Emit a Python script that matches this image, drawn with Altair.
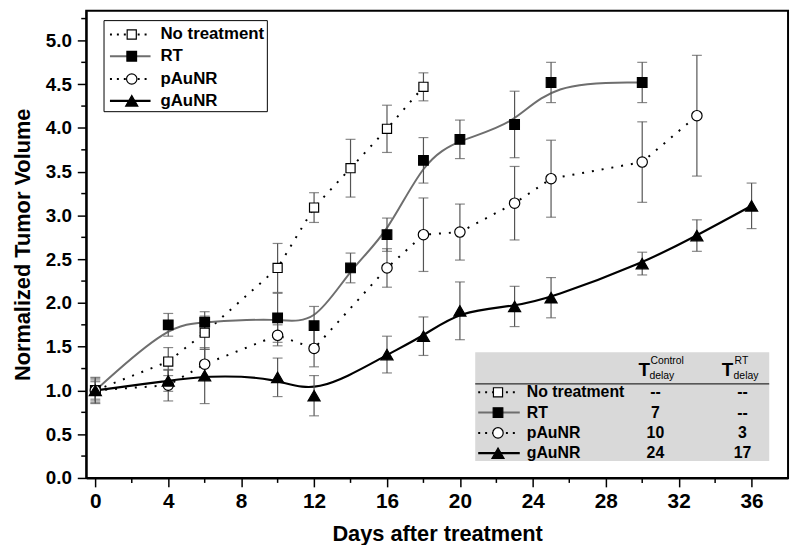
import altair as alt
import pandas as pd

# ---------------- data ----------------
series_names = ["No treatment", "RT", "pAuNR", "gAuNR"]

days_nt = [0, 4, 6, 10, 12, 14, 16, 18]
vol_nt = [1.00, 1.33, 1.66, 2.40, 3.09, 3.54, 3.99, 4.47]
err_nt = [0.10, 0.16, 0.19, 0.28, 0.17, 0.33, 0.27, 0.16]

days_rt = [0, 4, 6, 10, 12, 14, 16, 18, 20, 23, 25, 30]
vol_rt = [1.00, 1.75, 1.78, 1.83, 1.74, 2.40, 2.78, 3.63, 3.87, 4.04, 4.52, 4.52]
err_rt = [0.12, 0.13, 0.12, 0.28, 0.22, 0.17, 0.19, 0.26, 0.22, 0.38, 0.23, 0.23]

days_p = [0, 4, 6, 10, 12, 16, 18, 20, 23, 25, 30, 33]
vol_p = [1.00, 1.06, 1.30, 1.63, 1.48, 2.40, 2.78, 2.81, 3.14, 3.42, 3.61, 4.14]
err_p = [0.14, 0.18, 0.17, 0.12, 0.21, 0.22, 0.42, 0.32, 0.42, 0.44, 0.46, 0.69]

days_g = [0, 4, 6, 10, 12, 16, 18, 20, 23, 25, 30, 33, 36]
vol_g = [1.00, 1.11, 1.17, 1.15, 0.94, 1.41, 1.62, 1.91, 1.96, 2.06, 2.45, 2.77, 3.11]
err_g = [0.15, 0.12, 0.32, 0.22, 0.23, 0.21, 0.22, 0.33, 0.23, 0.23, 0.13, 0.18, 0.26]

t_control = ["--", "7", "10", "24"]
t_rt = ["--", "--", "3", "17"]

x_major = [0, 4, 8, 12, 16, 20, 24, 28, 32, 36]
x_minor = [2, 6, 10, 14, 18, 22, 26, 30, 34]
y_major = [0.0, 0.5, 1.0, 1.5, 2.0, 2.5, 3.0, 3.5, 4.0, 4.5, 5.0]
y_minor = [0.25, 0.75, 1.25, 1.75, 2.25, 2.75, 3.25, 3.75, 4.25, 4.75, 5.25]

# ---------------- layout / style ----------------
W, H = 709, 472
X_DOM = [-0.5, 38.0]
Y_DOM = [0.0, 5.34]
FONT = "Liberation Sans"
ERR_COLOR = "#555555"

STYLE = {
    "No treatment": dict(shape="square", fill="white", line="black", dash=[2, 8], ldash=[2, 5], interp="linear", size=85, lw=2),
    "RT": dict(shape="square", fill="black", line="#6e6e6e", dash=None, ldash=None, interp="basis", size=95, lw=2),
    "pAuNR": dict(shape="circle", fill="white", line="black", dash=[2, 8], ldash=[2, 5], interp="linear", size=110, lw=2),
    "gAuNR": dict(shape="triangle-up", fill="black", line="black", dash=None, ldash=None, interp="basis", size=150, lw=2.2),
}

SERIES = {
    "No treatment": (days_nt, vol_nt, err_nt),
    "RT": (days_rt, vol_rt, err_rt),
    "pAuNR": (days_p, vol_p, err_p),
    "gAuNR": (days_g, vol_g, err_g),
}

xs = alt.Scale(domain=X_DOM, nice=False, zero=False)
ys = alt.Scale(domain=Y_DOM, nice=False, zero=False)

x_axis = alt.Axis(values=x_major, format="d", title="Days after treatment",
                  labelFontSize=21, titleFontSize=22, labelPadding=4, titlePadding=12)
y_axis = alt.Axis(values=y_major, format=".1f", title="Normalized Tumor Volume",
                  labelFontSize=19, titleFontSize=22, labelPadding=6, titlePadding=11)


def X(field):
    return alt.X(field, scale=xs, axis=x_axis)


def Y(field):
    return alt.Y(field, scale=ys, axis=y_axis)


layers = []
for name in series_names:
    d, v, e = SERIES[name]
    st = STYLE[name]
    df = pd.DataFrame({"day": d, "vol": v,
                       "lo": [a - b for a, b in zip(v, e)],
                       "hi": [a + b for a, b in zip(v, e)]})
    base = alt.Chart(df)
    line_kw = dict(interpolate=st["interp"], color=st["line"], strokeWidth=st["lw"])
    if st["dash"]:
        line_kw["strokeDash"] = st["dash"]
    layers.append(base.mark_line(**line_kw).encode(x=X("day:Q"), y=Y("vol:Q")))
    layers.append(base.mark_rule(color=ERR_COLOR, strokeWidth=1.2).encode(
        x=X("day:Q"), y=Y("lo:Q"), y2="hi:Q"))
    for f in ["lo", "hi"]:
        layers.append(base.mark_tick(orient="horizontal", size=10, thickness=1.2, color=ERR_COLOR).encode(
            x=X("day:Q"), y=Y(f + ":Q")))

for name in series_names:
    d, v, e = SERIES[name]
    st = STYLE[name]
    df = pd.DataFrame({"day": d, "vol": v})
    layers.append(alt.Chart(df).mark_point(shape=st["shape"], size=st["size"], filled=True,
                                           fill=st["fill"], stroke="black", strokeWidth=1.2,
                                           opacity=1).encode(x=X("day:Q"), y=Y("vol:Q")))

# minor ticks
layers.append(alt.Chart(pd.DataFrame({"m": x_minor})).mark_rule(color="black", strokeWidth=1.5).encode(
    x=X("m:Q"), y=alt.value(H), y2=alt.value(H + 5)))
layers.append(alt.Chart(pd.DataFrame({"m": y_minor})).mark_rule(color="black", strokeWidth=1.5).encode(
    y=Y("m:Q"), x=alt.value(0), x2=alt.value(-5)))

# ---------------- legend (top-left) and table (bottom-right), pixel positions ----------------
LEG = dict(x0=18, x1=183, y0=10, y1=102, rows=[24, 46, 69, 91], l0=24, l1=65, mk=46, tx=75)
TAB = dict(x0=393, x1=690, y0=345, y1=455, hline=377, rows=[385.5, 406, 426.5, 447],
           l0=396, l1=438, mk=416, tx=445, c1=575, c2=663)

deco = []
deco.append(alt.Chart(pd.DataFrame({"a": [LEG["x0"]], "b": [LEG["x1"]], "c": [LEG["y0"]], "d": [LEG["y1"]]}))
            .mark_rect(fill="white", stroke="black", strokeWidth=1)
            .encode(x=alt.X("a:Q", scale=None), x2="b:Q", y=alt.Y("c:Q", scale=None), y2="d:Q"))
deco.append(alt.Chart(pd.DataFrame({"a": [TAB["x0"]], "b": [TAB["x1"]], "c": [TAB["y0"]], "d": [TAB["y1"]]}))
            .mark_rect(fill="#d9d9d9")
            .encode(x=alt.X("a:Q", scale=None), x2="b:Q", y=alt.Y("c:Q", scale=None), y2="d:Q"))
deco.append(alt.Chart(pd.DataFrame({"a": [TAB["x0"]], "b": [TAB["x1"]], "c": [TAB["hline"]]}))
            .mark_rule(color="black", strokeWidth=1)
            .encode(x=alt.X("a:Q", scale=None), x2="b:Q", y=alt.Y("c:Q", scale=None)))

for box, fs in [(LEG, 17), (TAB, 16)]:
    for i, name in enumerate(series_names):
        st = STYLE[name]
        y = box["rows"][i]
        rd = pd.DataFrame({"a": [box["l0"]], "b": [box["l1"]], "c": [y], "m": [box["mk"]],
                           "t": [box["tx"]], "label": [name]})
        rk = dict(color=st["line"], strokeWidth=st["lw"])
        if st["ldash"]:
            rk["strokeDash"] = st["ldash"]
        deco.append(alt.Chart(rd).mark_rule(**rk).encode(
            x=alt.X("a:Q", scale=None), x2="b:Q", y=alt.Y("c:Q", scale=None)))
        deco.append(alt.Chart(rd).mark_point(shape=st["shape"], size=st["size"], filled=True,
                                             fill=st["fill"], stroke="black", strokeWidth=1.2,
                                             opacity=1).encode(
            x=alt.X("m:Q", scale=None), y=alt.Y("c:Q", scale=None)))
        deco.append(alt.Chart(rd).mark_text(align="left", baseline="middle", font=FONT,
                                            fontWeight="bold", fontSize=fs, color="black").encode(
            x=alt.X("t:Q", scale=None), y=alt.Y("c:Q", scale=None), text="label:N"))

vals = pd.DataFrame({"c": TAB["rows"], "v1": t_control, "v2": t_rt,
                     "x1": [TAB["c1"]] * 4, "x2": [TAB["c2"]] * 4})
for col, xc in [("v1", "x1"), ("v2", "x2")]:
    deco.append(alt.Chart(vals).mark_text(align="center", baseline="middle", font=FONT,
                                          fontWeight="bold", fontSize=16, color="black").encode(
        x=alt.X(xc + ":Q", scale=None), y=alt.Y("c:Q", scale=None), text=col + ":N"))

hdr = pd.DataFrame({
    "x": [558, 570, 569, 642, 655, 654],
    "y": [363, 354, 369, 363, 354, 369],
    "t": ["T", "Control", "delay", "T", "RT", "delay"],
    "big": [1, 0, 0, 1, 0, 0],
})
deco.append(alt.Chart(hdr).transform_filter("datum.big == 1").mark_text(
    align="left", baseline="middle", font=FONT, fontWeight="bold", fontSize=19, color="black").encode(
    x=alt.X("x:Q", scale=None), y=alt.Y("y:Q", scale=None), text="t:N"))
deco.append(alt.Chart(hdr).transform_filter("datum.big == 0").mark_text(
    align="left", baseline="middle", font=FONT, fontSize=10.5, color="black").encode(
    x=alt.X("x:Q", scale=None), y=alt.Y("y:Q", scale=None), text="t:N"))

chart = alt.layer(*layers, *deco).properties(
    width=W, height=H,
    autosize=alt.AutoSizeParams(type="none"),
    padding={"left": 79, "top": 0, "right": 4, "bottom": 65},
).configure_view(stroke="black", strokeWidth=2).configure_axis(
    labelFont=FONT, titleFont=FONT, labelFontWeight="bold", titleFontWeight="bold",
    labelColor="black", titleColor="black", domainColor="black", domainWidth=2,
    tickColor="black", tickWidth=1.5, tickSize=9, grid=False,
)

chart.save("out.html", embed_options={"renderer": "svg", "actions": False})
